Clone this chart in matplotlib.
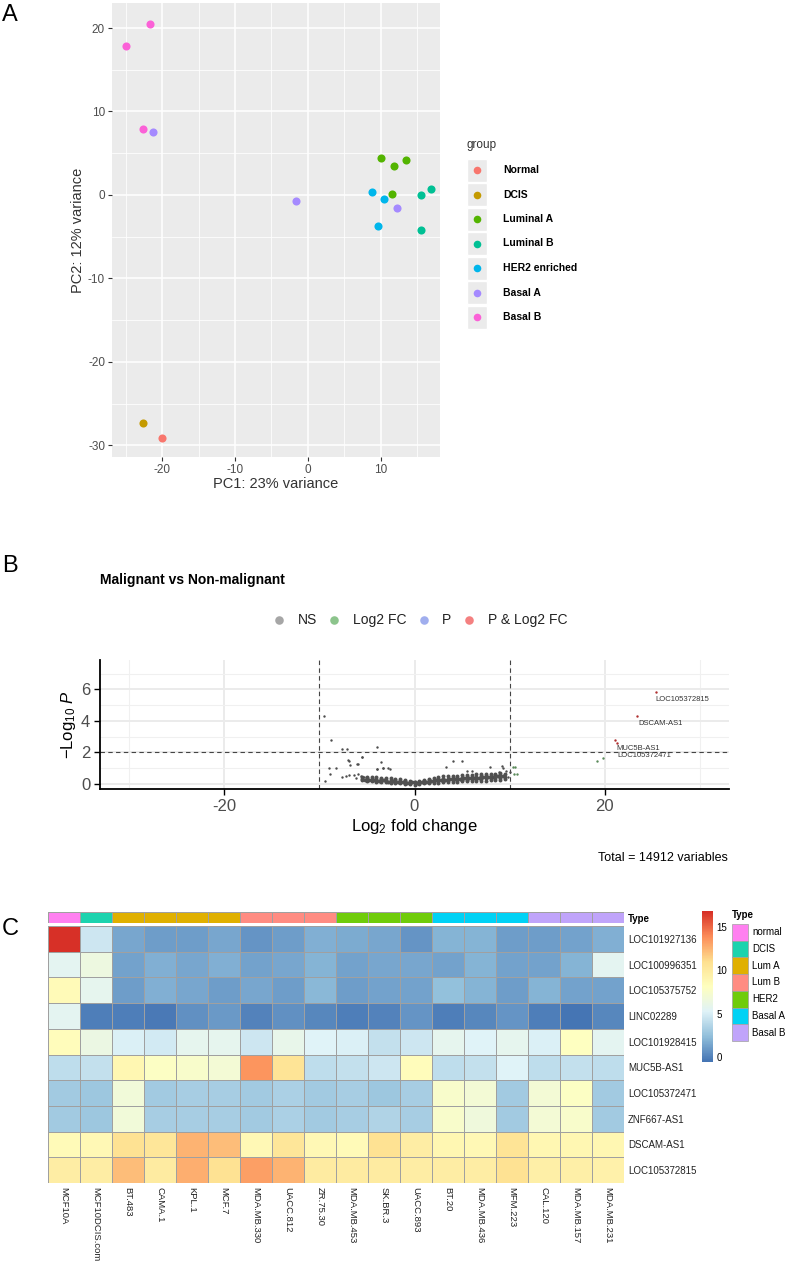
import matplotlib
matplotlib.use('Agg')
import matplotlib.pyplot as plt
import numpy as np
from matplotlib.colors import LinearSegmentedColormap, ListedColormap
from matplotlib.patches import Rectangle

plt.rcParams['font.family'] = ['Liberation Sans', 'DejaVu Sans']
plt.rcParams['mathtext.fontset'] = 'custom'
plt.rcParams['mathtext.rm'] = 'Liberation Sans'
plt.rcParams['mathtext.it'] = 'Liberation Sans:italic'
plt.rcParams['axes.unicode_minus'] = False

# ---------------- data: PCA ----------------
pca_groups = ['Normal', 'DCIS', 'Luminal A', 'Luminal B', 'HER2 enriched', 'Basal A', 'Basal B']
pca_colors = ['#F8766D', '#C49A00', '#53B400', '#00C094', '#00B6EB', '#A58AFF', '#FB61D7']
pc1 = [-20.0, -22.6, 10.0, 11.8, 13.5, 11.55, 15.5, 16.9, 15.5, 8.85, 10.4, 9.7,
       -21.3, -1.6, 12.2, -25.0, -21.7, -22.6]
pc2 = [-29.1, -27.3, 4.4, 3.5, 4.2, 0.1, 0.05, 0.7, -4.15, 0.3, -0.5, -3.7,
       7.5, -0.75, -1.6, 17.85, 20.5, 7.9]
pca_group = ['Normal', 'DCIS', 'Luminal A', 'Luminal A', 'Luminal A', 'Luminal A',
             'Luminal B', 'Luminal B', 'Luminal B', 'HER2 enriched', 'HER2 enriched',
             'HER2 enriched', 'Basal A', 'Basal A', 'Basal A', 'Basal B', 'Basal B', 'Basal B']

# ---------------- data: volcano ----------------
ns_x = [-9.55, -8.8, -7.6, -7.05, -3.9, -5.5, -6.9, -5.9, -6.8, -3.5, -9.0, -8.2,
        -3.9, -3.3, -2.6, -8.9, -9.4, -7.6, -7.2, -6.9, -6.4, -5.9, -5.6, -5.3, -6.1,
        -6.96, -6.0, -5.56, -3.98, -3.3, -2.76,
        4.07, 4.98, 3.33, 5.5, 6.07, 7.97, 9.2, 9.3, 10.0, 9.8, 8.5, 8.1, 9.6, 8.9]
ns_y = [4.3, 2.8, 2.24, 2.24, 2.33, 1.7, 1.45, 1.29, 1.2, 1.4, 1.04, 1.04,
        0.95, 1.0, 0.93, 0.61, 0.19, 0.47, 0.5, 0.55, 0.57, 0.6, 0.5, 0.42, 0.38,
        1.52, 1.27, 1.73, 0.95, 1.03, 1.0,
        1.48, 1.48, 1.06, 0.85, 0.85, 1.06, 1.17, 0.99, 0.74, 0.47, 0.66, 0.45, 0.8, 0.75]
band_x = [-5.5, -5.5, -5.5,
          -5.0, -5.0, -5.0, -5.0, -4.5, -4.5, -4.5, -4.5, -4.0, -4.0, -4.0, -4.0,
          -3.5, -3.5, -3.5, -3.5, -3.0, -3.0, -3.0, -3.0, -2.5, -2.5, -2.5, -2.5,
          -2.0, -2.0, -2.0, -2.0, -1.5, -1.5, -1.5, -1.5, -1.0, -1.0, -1.0, -1.0,
          -0.5, -0.5, -0.5, -0.5, 0.0, 0.0, 0.0, 0.0, 0.5, 0.5, 0.5, 0.5,
          1.0, 1.0, 1.0, 1.0, 1.5, 1.5, 1.5, 1.5, 2.0, 2.0, 2.0, 2.0,
          2.5, 2.5, 2.5, 2.5, 3.0, 3.0, 3.0, 3.0, 3.5, 3.5, 3.5, 3.5,
          4.0, 4.0, 4.0, 4.0, 4.5, 4.5, 4.5, 4.5, 5.0, 5.0, 5.0, 5.0,
          5.5, 5.5, 5.5, 5.5, 6.0, 6.0, 6.0, 6.0, 6.5, 6.5, 6.5, 6.5,
          7.0, 7.0, 7.0, 7.0, 7.5, 7.5, 7.5, 7.5, 8.0, 8.0, 8.0, 8.0,
          8.5, 8.5, 8.5, 8.5, 9.0, 9.0, 9.0, 9.0, 9.5, 9.5, 9.5,
          -5.25, -4.75, -4.25, -3.75, -3.25, -2.75, -2.25, -1.75, -1.25, -0.75, -0.25,
          0.25, 0.75, 1.25, 1.75, 2.25, 2.75, 3.25, 3.75, 4.25, 4.75, 5.25, 5.75,
          6.25, 6.75, 7.25, 7.75, 8.25, 8.75, 9.25]
band_y = [0.22, 0.32, 0.45,
          0.18, 0.28, 0.36, 0.45, 0.16, 0.26, 0.34, 0.43, 0.14, 0.22, 0.32, 0.42,
          0.12, 0.2, 0.3, 0.4, 0.1, 0.18, 0.28, 0.38, 0.08, 0.16, 0.25, 0.35,
          0.06, 0.14, 0.22, 0.33, 0.04, 0.12, 0.2, 0.3, 0.02, 0.1, 0.17, 0.25,
          0.0, 0.07, 0.14, 0.2, -0.04, 0.04, 0.1, 0.15, 0.0, 0.07, 0.14, 0.2,
          0.03, 0.1, 0.18, 0.25, 0.05, 0.13, 0.22, 0.32, 0.06, 0.16, 0.28, 0.4,
          0.08, 0.18, 0.3, 0.44, 0.1, 0.2, 0.32, 0.48, 0.12, 0.22, 0.34, 0.5,
          0.14, 0.24, 0.36, 0.52, 0.15, 0.25, 0.38, 0.53, 0.16, 0.27, 0.4, 0.55,
          0.17, 0.28, 0.42, 0.56, 0.18, 0.3, 0.44, 0.58, 0.19, 0.32, 0.46, 0.6,
          0.2, 0.33, 0.48, 0.62, 0.21, 0.35, 0.5, 0.63, 0.22, 0.36, 0.52, 0.65,
          0.24, 0.38, 0.54, 0.66, 0.26, 0.4, 0.56, 0.68, 0.3, 0.45, 0.6,
          0.27, 0.22, 0.26, 0.18, 0.24, 0.15, 0.2, 0.1, 0.15, 0.06, 0.1,
          0.05, 0.12, 0.14, 0.2, 0.24, 0.26, 0.28, 0.3, 0.32, 0.33, 0.35, 0.36,
          0.38, 0.4, 0.42, 0.44, 0.46, 0.48, 0.5]
fc_x = [10.3, 10.5, 10.8, 10.6, 19.2, 19.85]
fc_y = [1.1, 0.61, 0.61, 1.06, 1.45, 1.65]
sig_genes = ['LOC105372815', 'DSCAM-AS1', 'MUC5B-AS1', 'LOC105372471']
sig_x = [25.35, 23.4, 21.1, 21.3]
sig_y = [5.83, 4.31, 2.79, 2.62]

# ---------------- data: heatmap ----------------
hm_genes = ['LOC101927136', 'LOC100996351', 'LOC105375752', 'LINC02289', 'LOC101928415',
            'MUC5B-AS1', 'LOC105372471', 'ZNF667-AS1', 'DSCAM-AS1', 'LOC105372815']
hm_lines = ['MCF10A', 'MCF10DCIS.com', 'BT.483', 'CAMA.1', 'KPL.1', 'MCF.7', 'MDA.MB.330',
            'UACC.812', 'ZR.75.30', 'MDA.MB.453', 'SK.BR.3', 'UACC.893', 'BT.20',
            'MDA.MB.436', 'MFM.223', 'CAL.120', 'MDA.MB.157', 'MDA.MB.231']
hm_type = ['normal', 'DCIS', 'Lum A', 'Lum A', 'Lum A', 'Lum A', 'Lum B', 'Lum B', 'Lum B',
           'HER2', 'HER2', 'HER2', 'Basal A', 'Basal A', 'Basal A', 'Basal B', 'Basal B', 'Basal B']
type_names = ['normal', 'DCIS', 'Lum A', 'Lum B', 'HER2', 'Basal A', 'Basal B']
type_colors = ['#FF80F0', '#1CD3AE', '#E0B000', '#FF8C82', '#6FCC0A', '#00D2F5', '#C0A4FA']

loc101927136 = [16.85, 4.5, 1.5, 1.0, 1.0, 1.5, 0.8, 1.0, 1.8, 1.6, 1.5, 0.8, 2.0, 2.0, 1.0, 1.0, 1.2, 1.8]
loc100996351 = [5.6, 6.5, 1.3, 1.8, 1.5, 1.7, 1.3, 1.5, 2.0, 1.3, 1.4, 1.5, 1.2, 1.9, 1.2, 1.2, 2.0, 5.6]
loc105375752 = [8.6, 5.8, 1.0, 1.7, 1.5, 1.0, 1.5, 1.0, 2.2, 1.0, 1.2, 1.3, 2.4, 2.0, 1.0, 2.0, 1.2, 1.3]
linc02289 = [5.6, -0.2, -0.2, -0.3, 0.6, 0.9, 0.1, 0.5, 0.2, -0.2, 0.1, 0.8, -0.2, 0.2, 0.8, -0.1, -0.58, 0.2]
loc101928415 = [8.4, 6.3, 5.0, 4.7, 5.7, 5.8, 4.5, 6.0, 5.2, 5.0, 4.2, 4.5, 5.7, 5.2, 5.7, 5.0, 8.0, 5.6]
muc5b_as1 = [4.0, 4.2, 9.0, 7.8, 7.5, 7.0, 13.6, 10.6, 4.0, 4.3, 4.6, 8.4, 4.0, 4.2, 5.2, 4.0, 4.2, 4.0]
loc105372471 = [3.0, 2.9, 6.8, 3.0, 3.2, 3.2, 3.0, 3.4, 3.0, 3.2, 2.9, 3.1, 7.5, 7.0, 3.0, 7.0, 7.8, 3.0]
znf667_as1 = [3.0, 2.8, 6.8, 3.1, 3.1, 3.2, 3.0, 3.3, 3.0, 3.2, 3.5, 3.1, 7.5, 6.7, 3.0, 7.0, 7.6, 3.0]
dscam_as1 = [8.5, 8.8, 10.8, 10.5, 12.5, 12.2, 8.7, 10.5, 8.8, 8.6, 10.8, 9.8, 9.0, 8.8, 10.6, 8.9, 9.0, 9.0]
loc105372815 = [9.8, 9.8, 12.3, 10.0, 12.8, 10.8, 13.3, 12.5, 10.0, 10.0, 9.9, 9.8, 9.8, 9.8, 10.8, 9.7, 9.6, 9.5]

W, H = 787, 1265
fig = plt.figure(figsize=(W / 100, H / 100), dpi=100)


def px_axes(left, top, right, bottom):
    return fig.add_axes([left / W, 1 - bottom / H, (right - left) / W, (bottom - top) / H])


# ================= Panel A =================
axA = px_axes(112, 3, 440, 457)
axA.set_facecolor('#EBEBEB')
for g, c in zip(pca_groups, pca_colors):
    xs = [x for x, gg in zip(pc1, pca_group) if gg == g]
    ys = [y for y, gg in zip(pc2, pca_group) if gg == g]
    axA.scatter(xs, ys, s=34, color=c, zorder=3, linewidths=0)
axA.set_xlim(-26.9, 18.15)
axA.set_ylim(-31.4, 23.0)
axA.set_xticks([-20, -10, 0, 10])
axA.set_yticks([-30, -20, -10, 0, 10, 20])
axA.set_xticks([-25, -15, -5, 5, 15], minor=True)
axA.set_yticks([-25, -15, -5, 5, 15], minor=True)
axA.grid(which='major', color='white', linewidth=1.1)
axA.grid(which='minor', color='white', linewidth=0.55)
axA.set_axisbelow(True)
for s in axA.spines.values():
    s.set_visible(False)
axA.tick_params(which='major', length=3, color='#333333', labelcolor='#4D4D4D', labelsize=8.5, pad=2)
axA.tick_params(which='minor', length=0)
axA.set_xlabel('PC1: 23% variance', fontsize=10.5, color='#333333', labelpad=1)
axA.set_ylabel('PC2: 12% variance', fontsize=10.5, color='#333333', labelpad=2)

# legend A
legA = px_axes(460, 130, 590, 335)
legA.set_xlim(460, 590)
legA.set_ylim(335, 130)
legA.axis('off')
legA.text(467, 145, 'group', fontsize=8.5, color='#333333', va='center', ha='left')
for i, (g, c) in enumerate(zip(pca_groups, pca_colors)):
    yc = 170 + 24.5 * i
    legA.add_patch(Rectangle((467, yc - 11.5), 20, 23, facecolor='#EBEBEB', edgecolor='white', lw=1))
    legA.scatter([477], [yc], s=30, color=c, linewidths=0, zorder=3)
    legA.text(503, yc, g, fontsize=7.5, fontweight='bold', va='center', ha='left')

# ================= Panel B =================
fig.text(100 / W, 1 - 580 / H, 'Malignant vs Non-malignant', fontsize=10, fontweight='bold',
         va='center', ha='left')
leg_items = [('NS', '#A6A6A6', 279, 298), ('Log2 FC', '#8CC48C', 334, 353),
             ('P', '#A0AEEE', 424, 442), ('P & Log2 FC', '#F48080', 469, 488)]
legB = px_axes(250, 605, 640, 635)
legB.set_xlim(250, 640)
legB.set_ylim(635, 605)
legB.axis('off')
for lab, c, xm, xt in leg_items:
    legB.scatter([xm], [620], s=38, color=c, linewidths=0)
    legB.text(xt, 620, lab, fontsize=10, va='center', ha='left', color='#222222')

axB = px_axes(100, 660, 729, 789)
axB.set_xlim(-33.05, 33.05)
axB.set_ylim(-0.32, 7.86)
axB.set_xticks([-20, 0, 20])
axB.set_yticks([0, 2, 4, 6])
axB.set_xticks([-30, -10, 10, 30], minor=True)
axB.set_yticks([1, 3, 5, 7], minor=True)
axB.grid(which='major', color='#EBEBEB', linewidth=1.4)
axB.grid(which='minor', color='#F0F0F0', linewidth=0.8)
axB.set_axisbelow(True)
for side in ['top', 'right']:
    axB.spines[side].set_visible(False)
for side in ['left', 'bottom']:
    axB.spines[side].set_linewidth(1.3)
axB.tick_params(which='major', length=4, width=1, labelsize=12, labelcolor='#4D4D4D', pad=3)
axB.tick_params(which='minor', length=0)
axB.axvline(-10, color='#444444', linestyle=(0, (4, 3)), linewidth=0.8)
axB.axvline(10, color='#444444', linestyle=(0, (4, 3)), linewidth=0.8)
axB.axhline(2, color='#444444', linestyle=(0, (4, 3)), linewidth=0.8)
axB.scatter(band_x, band_y, s=8, color='#505050', linewidths=0, zorder=3)
axB.scatter(ns_x, ns_y, s=3, color='#4D4D4D', linewidths=0, zorder=3)
axB.scatter(fc_x, fc_y, s=3, color='#5A8A5A', linewidths=0, zorder=3)
axB.scatter(sig_x, sig_y, s=3, color='#B03030', linewidths=0, zorder=3)
lab_off = [(0.0, -0.46), (0.1, -0.48), (0.1, -0.55), (0.0, -0.82)]
for g, x, y, (dx, dy) in zip(sig_genes, sig_x, sig_y, lab_off):
    axB.text(x + dx, y + dy, g, fontsize=5.5, color='#333333', ha='left', va='center')
axB.set_xlabel(r'$\mathrm{Log}_{2}$ fold change', fontsize=12, labelpad=2)
axB.set_ylabel(r'$-\mathrm{Log}_{10}\ P$', fontsize=12, labelpad=2)
fig.text(728 / W, 1 - 858 / H, 'Total = 14912 variables', fontsize=9, ha='right', va='center')

# ================= Panel C =================
rdylbu = ['#4575B4', '#91BFDB', '#E0F3F8', '#FFFFBF', '#FEE090', '#FC8D59', '#D73027']
cmap = LinearSegmentedColormap.from_list('pheat', rdylbu, N=100)
hm = np.array([loc101927136, loc100996351, loc105375752, linc02289, loc101928415,
               muc5b_as1, loc105372471, znf667_as1, dscam_as1, loc105372815])
vmin, vmax = hm.min(), hm.max()

axAnn = px_axes(48, 912, 624, 923)
type_idx = np.array([[type_names.index(t) for t in hm_type]])
axAnn.pcolormesh(type_idx, cmap=ListedColormap(type_colors), vmin=-0.5, vmax=6.5,
                 edgecolors='#A0A0A0', linewidth=0.5)
axAnn.set_xlim(0, len(hm_lines))
axAnn.set_xticks([])
axAnn.yaxis.tick_right()
axAnn.set_yticks([0.5])
axAnn.set_yticklabels(['Type'], fontsize=7, fontweight='bold')
axAnn.tick_params(axis='y', length=0, pad=3)
for s in axAnn.spines.values():
    s.set_visible(False)

axC = px_axes(48, 926, 624, 1183)
axC.pcolormesh(hm, cmap=cmap, vmin=vmin, vmax=vmax, edgecolors='#A0A0A0', linewidth=0.6)
axC.set_xlim(0, len(hm_lines))
axC.set_ylim(len(hm_genes), 0)
axC.yaxis.tick_right()
axC.set_yticks(np.arange(len(hm_genes)) + 0.5)
axC.set_yticklabels(hm_genes, fontsize=7, color='#222222')
axC.set_xticks(np.arange(len(hm_lines)) + 0.5)
axC.set_xticklabels(hm_lines, fontsize=6.8, rotation=270, ha='center', va='top', color='#222222')
axC.tick_params(length=0, pad=3)
for s in axC.spines.values():
    s.set_visible(False)

# colorbar
axCb = px_axes(702, 911, 712, 1062)
grad = np.linspace(vmin, vmax, 200).reshape(-1, 1)
axCb.imshow(grad, cmap=cmap, aspect='auto', origin='lower', extent=[0, 1, vmin, vmax],
            vmin=vmin, vmax=vmax)
axCb.set_xticks([])
axCb.yaxis.tick_right()
axCb.set_yticks([0, 5, 10, 15])
axCb.tick_params(axis='y', length=0, labelsize=7, pad=3)
for s in axCb.spines.values():
    s.set_visible(False)

# type legend
legC = px_axes(728, 905, 787, 1045)
legC.set_xlim(728, 787)
legC.set_ylim(1045, 905)
legC.axis('off')
legC.text(732, 915, 'Type', fontsize=7, fontweight='bold', va='center', ha='left')
for i, (t, c) in enumerate(zip(type_names, type_colors)):
    y0 = 924 + 16.7 * i
    legC.add_patch(Rectangle((732, y0), 16, 16.7, facecolor=c, edgecolor='#A0A0A0', lw=0.5))
    legC.text(752, y0 + 8.3, t, fontsize=7, va='center', ha='left')

# panel letters
fig.text(2 / W, 1 - 4 / H, 'A', fontsize=17, va='top', ha='left')
fig.text(2 / W, 1 - 555 / H, 'B', fontsize=17, va='top', ha='left')
fig.text(2 / W, 1 - 918 / H, 'C', fontsize=17, va='top', ha='left')

fig.savefig('out.png', dpi=100)
